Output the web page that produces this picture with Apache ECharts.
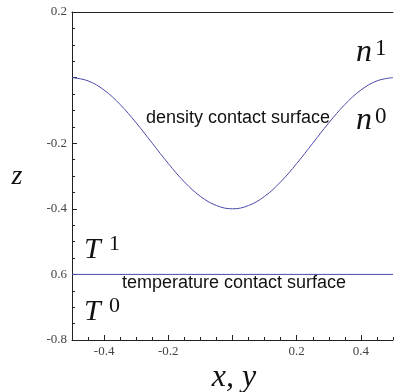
<!DOCTYPE html>
<html><head><meta charset="utf-8">
<script src="https://cdn.jsdelivr.net/npm/echarts@6/dist/echarts.min.js"></script>
<style>html,body{margin:0;padding:0;background:#fff}#c{width:396px;height:392px}</style>
</head><body><div id="c"></div>
<script>
// density contact surface, read at x step 0.05
var curveX = [-0.5,-0.45,-0.4,-0.35,-0.3,-0.25,-0.2,-0.15,-0.1,-0.05,0,0.05,0.1,0.15,0.2,0.25,0.3,0.35,0.4,0.45,0.5];
var curveZ = [0,-0.01,-0.038,-0.082,-0.138,-0.2,-0.262,-0.318,-0.362,-0.39,-0.4,-0.39,-0.362,-0.318,-0.262,-0.2,-0.138,-0.082,-0.038,-0.01,0];
// temperature contact surface
var tempX = [-0.5, 0.5];
var tempZ = [-0.6, -0.6];
var xTickLabels = {'-0.4':'-0.4','-0.2':'-0.2','0.2':'0.2','0.4':'0.4'};
var yTickLabels = {'0.2':'0.2','-0.2':'-0.2','-0.4':'-0.4','-0.6':'0.6','-0.8':'-0.8'};
var xMajor = [-0.4,-0.2,0,0.2,0.4];
var yMajor = [0.2,0,-0.2,-0.4,-0.6,-0.8];

var lineColor = '#4a4aa8';
var axisColor = '#222';
var serif = '"Liberation Serif","DejaVu Serif",serif';
var sans = '"Liberation Sans", Arial, sans-serif';
function key(v){ var r = Math.round(v*100)/100; return String(r); }

var chart = echarts.init(document.getElementById('c'), null, {renderer:'canvas'});
var tickLbl = {fontFamily: 'Liberation Serif, serif', fontSize: 13, color: '#444'};
chart.setOption({
  animation:false,
  grid: {left:72, right:0, top:12, bottom:52},
  xAxis: [
    {type:'value', min:-0.5, max:0.5, interval:0.05, position:'bottom',
     axisLine:{show:true, onZero:false, lineStyle:{color:axisColor, width:1}},
     axisTick:{show:true, inside:true, length:3, lineStyle:{color:axisColor}},
     axisLabel:Object.assign({margin:5, showMinLabel:true, showMaxLabel:true, formatter:function(v){return xTickLabels[key(v)]||'';}}, tickLbl),
     splitLine:{show:false}},
    {type:'value', min:-0.5, max:0.5, position:'bottom',
     axisLine:{show:false, onZero:false},
     axisTick:{show:true, inside:true, length:5, customValues:xMajor, lineStyle:{color:axisColor}},
     axisLabel:{show:false}, splitLine:{show:false}},
    {type:'value', min:-0.5, max:0.5, position:'top',
     axisLine:{show:true, onZero:false, lineStyle:{color:axisColor, width:1}},
     axisTick:{show:false}, axisLabel:{show:false}, splitLine:{show:false}}
  ],
  yAxis: [
    {type:'value', min:-0.8, max:0.2, interval:0.05, position:'left',
     axisLine:{show:true, onZero:false, lineStyle:{color:axisColor, width:1}},
     axisTick:{show:true, inside:true, length:3, lineStyle:{color:axisColor}},
     axisLabel:Object.assign({margin:5, showMinLabel:true, showMaxLabel:true, formatter:function(v){return yTickLabels[key(v)]||'';}}, tickLbl),
     splitLine:{show:false}},
    {type:'value', min:-0.8, max:0.2, position:'left',
     axisLine:{show:false, onZero:false},
     axisTick:{show:true, inside:true, length:5, customValues:yMajor, lineStyle:{color:axisColor}},
     axisLabel:{show:false}, splitLine:{show:false}}
  ],
  series: [
    {type:'line', xAxisIndex:0, yAxisIndex:0, smooth:0.4, symbol:'none',
     lineStyle:{color:lineColor, width:1},
     data: curveX.map(function(x,i){return [x, curveZ[i]];})},
    {type:'line', xAxisIndex:0, yAxisIndex:0, symbol:'none',
     lineStyle:{color:lineColor, width:1},
     data: tempX.map(function(x,i){return [x, tempZ[i]];})}
  ],
  graphic: [
    {type:'text', style:{text:'density contact surface', x:238, y:118, align:'center', verticalAlign:'middle', font:'18px '+sans, fill:'#111'}},
    {type:'text', style:{text:'temperature contact surface', x:234, y:283, align:'center', verticalAlign:'middle', font:'18px '+sans, fill:'#111'}},
    {type:'text', style:{text:'n', x:356, y:69, align:'left', verticalAlign:'bottom', font:'italic 32px '+serif, fill:'#111'}},
    {type:'text', style:{text:'1', x:375, y:60, align:'left', verticalAlign:'bottom', font:'23px '+serif, fill:'#111'}},
    {type:'text', style:{text:'n', x:356, y:137, align:'left', verticalAlign:'bottom', font:'italic 32px '+serif, fill:'#111'}},
    {type:'text', style:{text:'0', x:375, y:128, align:'left', verticalAlign:'bottom', font:'23px '+serif, fill:'#111'}},
    {type:'text', style:{text:'T', x:84, y:265, align:'left', verticalAlign:'bottom', font:'italic 30px '+serif, fill:'#111'}},
    {type:'text', style:{text:'1', x:109, y:255, align:'left', verticalAlign:'bottom', font:'22px '+serif, fill:'#111'}},
    {type:'text', style:{text:'T', x:84, y:327, align:'left', verticalAlign:'bottom', font:'italic 30px '+serif, fill:'#111'}},
    {type:'text', style:{text:'0', x:109, y:317, align:'left', verticalAlign:'bottom', font:'22px '+serif, fill:'#111'}},
    {type:'text', style:{text:'z', x:17, y:177, align:'center', verticalAlign:'middle', font:'italic 28px '+serif, fill:'#111'}},
    {type:'text', style:{text:'x, y', x:234, y:378, align:'center', verticalAlign:'middle', font:'italic 32px '+serif, fill:'#111'}}
  ]
});
</script></body></html>
